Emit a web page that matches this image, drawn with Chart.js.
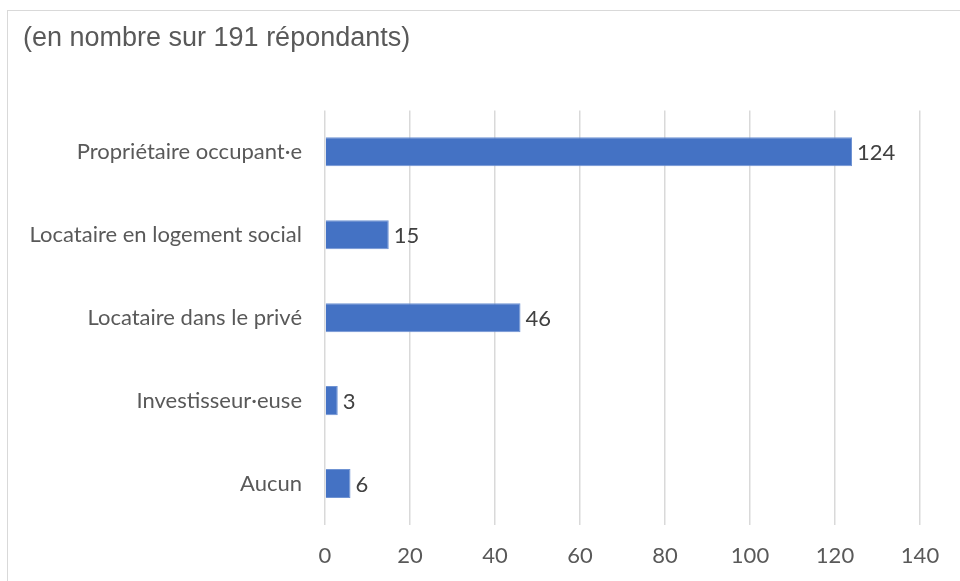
<!DOCTYPE html>
<html>
<head>
<meta charset="utf-8">
<script src="https://cdn.jsdelivr.net/npm/chart.js@4.4.0/dist/chart.umd.min.js"></script>
<style>
  html, body { margin: 0; padding: 0; background: #fff; overflow: hidden; }
  #frame { position: absolute; left: 7px; top: 10px; width: 1000px; height: 1000px; border: 1px solid #d9d9d9; }
  #wrap { position: absolute; left: 0; top: 0; width: 960px; height: 581px; }
</style>
</head>
<body>
<div id="frame"></div>
<div id="wrap"><canvas id="chart" width="960" height="581"></canvas></div>
<script>
const categories = ['Propriétaire occupant·e', 'Locataire en logement social', 'Locataire dans le privé', 'Investisseur·euse', 'Aucun'];
const counts = [124, 15, 46, 3, 6];
const xTicks = [0, 20, 40, 60, 80, 100, 120, 140];

// valeurs affichées au bout des barres
const barLabels = {
    id: 'barLabels',
    afterDatasetsDraw(chart) {
        const ctx = chart.ctx;
        const meta = chart.getDatasetMeta(0);
        ctx.save();
        ctx.font = '22px Lato';
        ctx.fillStyle = '#404040';
        ctx.textBaseline = 'middle';
        meta.data.forEach((bar, i) => {
            ctx.fillText(String(counts[i]), bar.x + 5, bar.y + 1);
        });
        ctx.restore();
    }
};

const ctx = document.getElementById('chart').getContext('2d');
new Chart(ctx, {
    type: 'bar',
    data: {
        labels: categories,
        datasets: [{
            data: counts,
            backgroundColor: '#4472C4',
            borderColor: '#6f93d3',
            borderWidth: 1,
            categoryPercentage: 1,
            barPercentage: 0.35
        }]
    },
    options: {
        indexAxis: 'y',
        responsive: false,
        animation: false,
        layout: { padding: { left: 23, right: 40, top: 0, bottom: 0 } },
        scales: {
            x: {
                min: 0,
                max: 140,
                afterBuildTicks: s => { s.ticks = xTicks.map(v => ({ value: v })); },
                afterFit: s => { s.height = 56; },
                grid: { color: '#d9d9d9', lineWidth: 1.5, drawTicks: false },
                border: { display: false },
                ticks: { color: '#595959', font: { family: 'Lato', size: 22 }, padding: 18 }
            },
            y: {
                afterFit: s => { s.width = 302; },
                grid: { display: false, drawTicks: false },
                border: { display: false },
                ticks: { color: '#595959', font: { family: 'Lato', size: 22 }, padding: 23 }
            }
        },
        plugins: {
            legend: { display: false },
            tooltip: { enabled: false },
            title: {
                display: true,
                text: '(en nombre sur 191 répondants)',
                align: 'start',
                color: '#595959',
                font: { family: 'Liberation Sans', size: 27, weight: 'normal' },
                padding: { top: 22, bottom: 56 }
            }
        }
    },
    plugins: [barLabels]
});
</script>
</body>
</html>
